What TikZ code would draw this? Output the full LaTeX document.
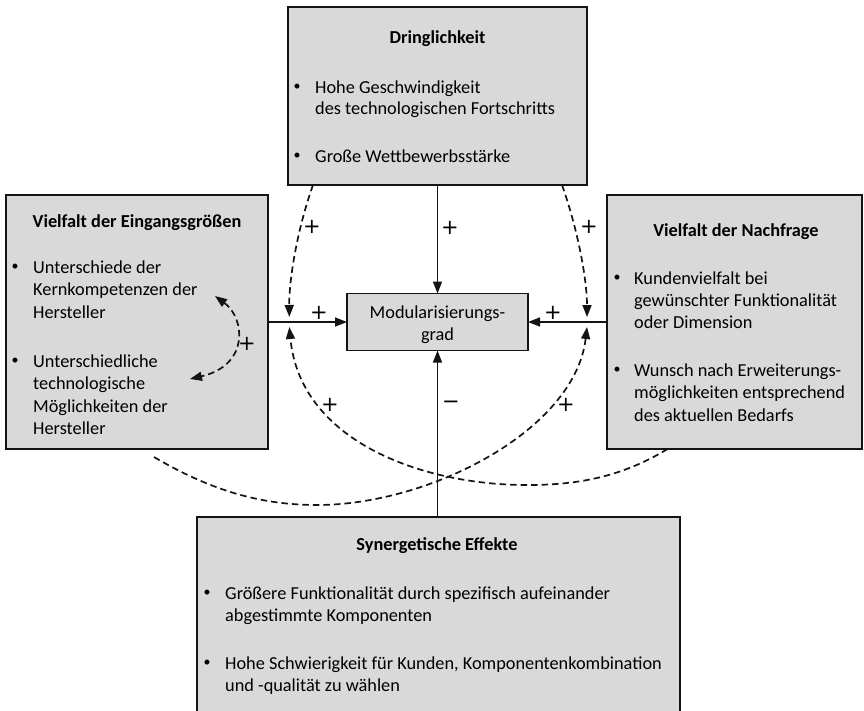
\documentclass[tikz,border=0pt]{standalone}
\usepackage{fontspec}
\setmainfont{Carlito}
\newfontfamily\signfont{DejaVu Sans}
\usetikzlibrary{arrows.meta}
\definecolor{boxgray}{RGB}{217,217,217}
\definecolor{edge}{RGB}{20,20,20}
\begin{document}
\begin{tikzpicture}[x=1pt,y=-1pt,
  box/.style={draw=edge, fill=boxgray, line width=1.9pt, inner sep=0, outer sep=0},
  txt/.style={anchor=base west, inner sep=0, text=black, font=\fontsize{18.3}{22}\selectfont},
  ttl/.style={anchor=base, inner sep=0, text=black, font=\fontsize{18.3}{22}\selectfont\bfseries},
  ctr/.style={anchor=base, inner sep=0, text=black, font=\fontsize{18.3}{22}\selectfont},
  bul/.style={anchor=center, inner sep=0, text=black, font=\fontsize{14}{14}\selectfont},
  sgn/.style={inner sep=0, text=black, font=\signfont\fontsize{21}{22}\selectfont},
  link/.style={draw=edge, line width=1.6pt, -{Triangle[length=12pt,width=9pt]}},
  dlink/.style={link, line width=1.7pt, dash pattern=on 6.5pt off 4pt},
  ddlink/.style={dlink, {Triangle[length=12pt,width=9pt]}-{Triangle[length=12pt,width=9pt]}}]
\useasboundingbox (0,0) rectangle (864,710);

% boxes
\node[box, minimum width=299pt, minimum height=178pt] (dring) at (437.5,96) {};
\node[box, minimum width=262pt, minimum height=254pt] (vl) at (137,322) {};
\node[box, minimum width=255pt, minimum height=254pt] (vn) at (734.5,322) {};
\node[box, minimum width=181pt, minimum height=57pt] (mg) at (437.5,322) {};
\node[box, minimum width=483pt, minimum height=203pt] (syn) at (438.5,618.5) {};

% Dringlichkeit
\node[ttl] (dt) at (437.5,43) {Dringlichkeit};
\node[bul] (db1) at (297,87) {\textbullet};
\node[txt] (d1a) at (315,93) {Hohe Geschwindigkeit};
\node[txt] (d1b) at (315,114) {des technologischen Fortschritts};
\node[bul] (db2) at (297,156) {\textbullet};
\node[txt] (d2a) at (315,162) {Große Wettbewerbsstärke};

% Vielfalt der Eingangsgrößen
\node[ttl] (lt) at (137,227) {Vielfalt der Eingangsgrößen};
\node[bul] (lb1) at (15,267) {\textbullet};
\node[txt] (l1a) at (33,273) {Unterschiede der};
\node[txt] (l1b) at (33,295.5) {Kernkompetenzen der};
\node[txt] (l1c) at (33,318) {Hersteller};
\node[bul] (lb2) at (15,361) {\textbullet};
\node[txt] (l2a) at (33,367) {Unterschiedliche};
\node[txt] (l2b) at (33,389.5) {technologische};
\node[txt] (l2c) at (33,412) {Möglichkeiten der};
\node[txt] (l2d) at (33,434.5) {Hersteller};

% Vielfalt der Nachfrage
\node[ttl] (rt) at (736,236) {Vielfalt der Nachfrage};
\node[bul] (rb1) at (617,278) {\textbullet};
\node[txt] (r1a) at (634,284) {Kundenvielfalt bei};
\node[txt] (r1b) at (634,306) {gewünschter Funktionalität};
\node[txt] (r1c) at (634,328) {oder Dimension};
\node[bul] (rb2) at (617,370) {\textbullet};
\node[txt] (r2a) at (634,376) {Wunsch nach Erweiterungs-};
\node[txt] (r2b) at (634,398.5) {möglichkeiten entsprechend};
\node[txt] (r2c) at (634,421) {des aktuellen Bedarfs};

% Modularisierungsgrad
\node[ctr] (m1) at (437.5,318) {Modularisierungs-};
\node[ctr] (m2) at (437.5,340) {grad};

% Synergetische Effekte
\node[ttl] (st) at (437,550) {Synergetische Effekte};
\node[bul] (sb1) at (207,593) {\textbullet};
\node[txt] (s1a) at (225,599) {Größere Funktionalität durch spezifisch aufeinander};
\node[txt] (s1b) at (225,621) {abgestimmte Komponenten};
\node[bul] (sb2) at (207,663) {\textbullet};
\node[txt] (s2a) at (225,669) {Hohe Schwierigkeit für Kunden, Komponentenkombination};
\node[txt] (s2b) at (225,691) {und -qualität zu wählen};

% solid influences on the degree of modularisation
\draw[link] (dring.south) -- (mg.north);
\draw[link] (vl.east |- mg.west) -- (mg.west);
\draw[link] (vn.west |- mg.east) -- (mg.east);
\draw[link] (mg.south |- syn.north) -- (mg.south);

% junctions on the horizontal links
\path (vl.east |- mg.west) -- (mg.west) coordinate[pos=0.27] (jl);
\path (mg.east) -- (vn.west |- mg.east) coordinate[pos=0.747] (jr);

% dashed indirect influences
\draw[dlink] ([xshift=25pt]dring.south west) .. controls (297,230) and (289,280) .. ([yshift=5pt]jl);
\draw[dlink] ([xshift=-25pt]dring.south east) .. controls (578,230) and (587,280) .. ([yshift=5pt]jr);
\draw[dlink] ([xshift=17pt,yshift=-8pt]vl.south) .. controls (210,490) and (260,505) .. (317,505)
  .. controls (430,505) and (575,430) .. ([yshift=-5pt]jr);
\draw[dlink] ([xshift=-67pt]vn.south) .. controls (620,478) and (575,485) .. (527,485)
  .. controls (420,485) and (300,440) .. ([yshift=-5pt]jl);

% feedback inside the input variety box
\coordinate (k1) at (215,296);
\coordinate (k2) at (190,379);
\draw[ddlink] (k1) .. controls (245,318) and (250,365) .. (k2);

% signs
\node[sgn] (p1) at (450,228) {+};
\node[sgn] (p2) at (312,227) {+};
\node[sgn] (p3) at (589,227) {+};
\node[sgn] (p4) at (319,313) {+};
\node[sgn] (p5) at (553,313) {+};
\node[sgn] (p6) at (247,344) {+};
\node[sgn] (p7) at (330,405) {+};
\node[sgn] (p8) at (566,405) {+};
\node[sgn] (n1) at (451,405) {−};
\end{tikzpicture}
\end{document}
